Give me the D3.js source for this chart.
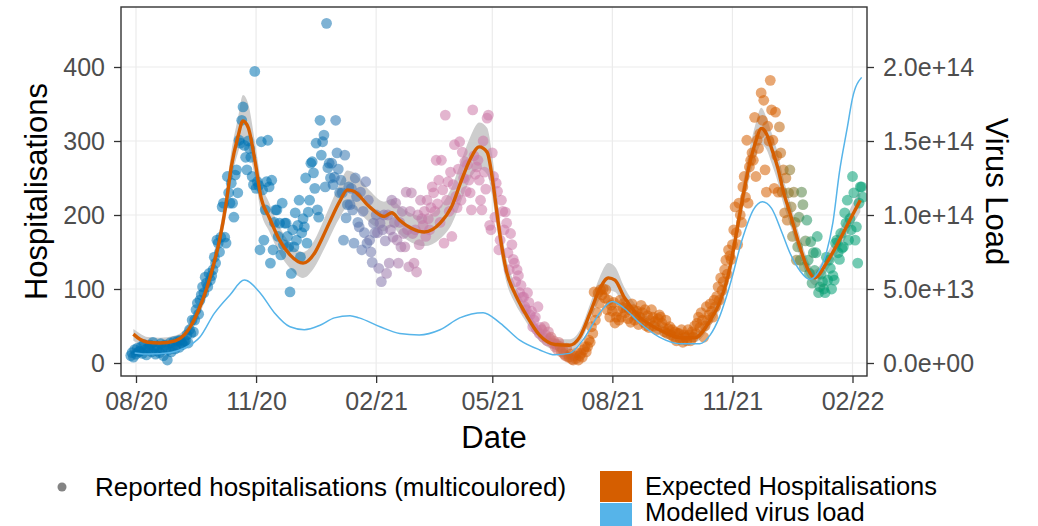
<!DOCTYPE html>
<html>
<head>
<meta charset="utf-8">
<script src="https://cdn.jsdelivr.net/npm/d3@7"></script>
<style>
body { margin: 0; background: #fff; }
text { font-family: "Liberation Sans", Arial, sans-serif; }
</style>
</head>
<body>
<div id="chart"></div>
<script>
var width = 1038;
var height = 526;
var panel = {left: 121, right: 867, top: 7, bottom: 376};

// reported hospitalisations, one value per day from firstDay
var firstDay = "2020-07-28";
var hospitalisations = [
  10, 14, 8, 18, 12, 20, 15,
  16, 22, 13, 25, 18, 11, 20,
  19, 24, 15, 28, 21, 12, 17,
  22, 14, 26, 18, 10, 24, 20,
  4, 18, 27, 15, 22, 29, 19,
  24, 30, 21, 31, 27, 25, 29,
  30, 38, 27, 45, 40, 58, 42,
  58, 72, 81, 66, 85, 92, 103,
  95, 116, 108, 103, 121, 112, 118,
  126, 143, 135, 166, 162, 150, 170,
  211, 216, 170, 162, 252, 230, 216,
  243, 216, 197, 254, 261, 230, 301,
  297, 328, 346, 294, 278, 261, 300,
  290, 278, 252, 241, 394, 236, 245,
  240, 153, 299, 234, 166, 207, 245,
  301, 238, 135, 247, 153, 190, 207,
  207, 171, 189, 146, 216, 160, 189,
  189, 171, 157, 96, 121, 180, 157,
  203, 166, 186, 220, 143, 176, 195,
  184, 250, 162, 204, 220, 270, 272,
  257, 236, 297, 207, 197, 328, 281,
  299, 308, 238, 459, 264, 270, 250,
  270, 241, 251, 328, 284, 262, 230,
  247, 230, 166, 281, 196, 214, 238,
  214, 236, 207, 162, 250, 225, 190,
  184, 231, 153, 205, 176, 245, 162,
  220, 166, 150, 136, 189, 176, 200,
  176, 128, 189, 110, 180, 200, 165,
  121, 200, 135, 180, 220, 170, 190,
  216, 166, 135, 190, 157, 205, 175,
  157, 231, 180, 130, 205, 230, 175,
  135, 180, 123, 200, 160, 220, 195,
  186, 205, 171, 220, 195, 180, 210,
  238, 230, 205, 274, 215, 247, 190,
  274, 234, 162, 335, 220, 245, 205,
  258, 171, 241, 295, 225, 210, 262,
  299, 220, 285, 250, 272, 232, 268,
  247, 230, 207, 342, 280, 255, 265,
  274, 247, 220, 207, 300, 258, 235,
  331, 335, 186, 180, 284, 252, 197,
  243, 232, 153, 166, 220, 205, 180,
  204, 189, 149, 126, 175, 160, 140,
  135, 110, 126, 118, 95, 105, 89,
  89, 76, 72, 95, 82, 65, 70,
  49, 58, 62, 45, 76, 40, 48,
  45, 35, 49, 38, 30, 42, 33,
  35, 27, 30, 22, 25, 18, 28,
  22, 15, 18, 12, 10, 20, 8,
  8, 12, 5, 4, 10, 6, 14,
  4, 10, 13, 8, 18, 22, 15,
  22, 31, 28, 49, 40, 96, 58,
  68, 95, 81, 99, 92, 100, 88,
  99, 72, 85, 62, 78, 70, 82,
  54, 62, 70, 58, 85, 62, 75,
  81, 68, 74, 60, 72, 55, 80,
  72, 58, 64, 70, 52, 62, 78,
  68, 55, 72, 50, 64, 48, 58,
  72, 62, 50, 56, 45, 60, 65,
  62, 54, 48, 42, 58, 40, 46,
  49, 38, 45, 35, 42, 30, 40,
  40, 32, 45, 28, 38, 35, 30,
  45, 38, 30, 42, 35, 50, 40,
  54, 62, 48, 68, 58, 35, 50,
  76, 58, 65, 80, 70, 62, 85,
  76, 90, 103, 85, 115, 98, 110,
  126, 139, 120, 153, 145, 140, 160,
  180, 211, 176, 160, 216, 200, 190,
  238, 252, 224, 301, 216, 265, 274,
  284, 274, 332, 252, 301, 290, 310,
  365, 328, 355, 261, 231, 320, 300,
  382, 342, 301, 236, 339, 280, 231,
  319, 284, 231, 261, 203, 250, 193,
  230, 261, 211, 171, 231, 190, 139,
  157, 197, 139, 231, 214, 130, 165,
  193, 139, 121, 164, 108, 149, 125,
  149, 171, 95, 103, 120, 110, 100,
  95, 143, 112, 139, 128, 100, 118,
  112, 162, 166, 149, 140, 175, 155,
  157, 203, 189, 220, 166, 195, 180,
  252, 230, 166, 184, 135, 216, 238,
  238, 224
];

// weekly variant shares (rest is wild type), used to colour the points
var alphaShare = [
  0,0,0,0,0,0,0,0,0,0, 0,0,0,0,0,0,0,0,0,0,
  .05,.1,.18,.25,.35,.45,.55,.65,.75,.82, .88,.93,.97,1,1,1,1,1,1,1,
  1,1,1,1,1,.9,.7,.4,.15,.05, 0,0,0,0,0,0,0,0,0,0,
  0,0,0,0,0,0,0,0,0,0, 0,0,0,0,0,0,0,0,0,0
];
var deltaShare = [
  0,0,0,0,0,0,0,0,0,0, 0,0,0,0,0,0,0,0,0,0,
  0,0,0,0,0,0,0,0,0,0, 0,0,0,0,0,0,0,0,0,0,
  0,0,0,0,0,.1,.3,.6,.85,.95, 1,1,1,1,1,1,1,1,1,1,
  1,1,1,1,1,1,1,1,1,1, 1,.9,.65,.4,.15,.05,0,0,0,0
];
var omicronShare = [
  0,0,0,0,0,0,0,0,0,0, 0,0,0,0,0,0,0,0,0,0,
  0,0,0,0,0,0,0,0,0,0, 0,0,0,0,0,0,0,0,0,0,
  0,0,0,0,0,0,0,0,0,0, 0,0,0,0,0,0,0,0,0,0,
  0,0,0,0,0,0,0,0,0,0, 0,.1,.35,.6,.85,.95,1,1,1,1
];

// expected hospitalisations with interval
var fitDates = ["2020-07-30","2020-08-04","2020-08-10","2020-08-19","2020-08-31","2020-09-07","2020-09-12","2020-09-19","2020-09-24","2020-09-29",
  "2020-10-04","2020-10-09","2020-10-13","2020-10-18","2020-10-22","2020-10-26","2020-10-31","2020-11-05","2020-11-11","2020-11-19",
  "2020-11-27","2020-12-07","2020-12-16","2020-12-22","2020-12-27","2021-01-04","2021-01-10","2021-01-15","2021-01-27","2021-02-07",
  "2021-02-13","2021-02-19","2021-02-28","2021-03-10","2021-03-22","2021-03-31","2021-04-07","2021-04-14","2021-04-21","2021-04-27",
  "2021-05-01","2021-05-04","2021-05-08","2021-05-12","2021-05-18","2021-05-26","2021-06-06","2021-06-18","2021-06-29","2021-07-07",
  "2021-07-15","2021-07-22","2021-07-29","2021-08-03","2021-08-10","2021-08-22","2021-09-06","2021-09-22","2021-10-03","2021-10-15",
  "2021-10-22","2021-10-29","2021-11-03","2021-11-08","2021-11-14","2021-11-19","2021-11-23","2021-11-27","2021-12-01","2021-12-06",
  "2021-12-10","2021-12-15","2021-12-23","2021-12-29","2022-01-03","2022-01-12","2022-01-22","2022-02-01","2022-02-07"];
var fitMid = [39,32,28,27,30,38,50,76,100,130, 166,215,265,305,327,318,275,222,197,166,
  146,135,149,170,189,218,234,232,211,198, 203,193,182,177,189,212,245,275,292,285,
  250,210,160,123,95,68,38,25,24,35, 68,99,115,112,89,62,45,34,34,58,
  81,120,165,215,268,300,317,310,290,262, 232,203,155,126,115,135,166,200,220];
var fitLow = [30,25,22,21,24,31,42,67,90,119, 153,200,247,283,302,292,252,202,178,148,
  128,115,130,150,168,196,210,208,190,178, 184,174,163,158,168,188,218,248,262,255,
  225,188,142,108,82,58,30,18,17,27, 57,85,98,96,76,53,38,28,28,50,
  71,108,151,199,250,280,295,289,270,243, 215,188,142,115,105,124,153,186,204];
var fitHigh = [46,40,35,34,37,45,58,85,110,141, 179,232,285,330,362,350,300,244,217,184,
  162,150,167,190,210,242,260,257,233,218, 222,212,202,198,212,238,272,305,325,318,
  280,236,180,140,108,79,47,32,32,44, 80,115,135,130,103,72,53,41,41,67,
  92,133,180,232,288,325,345,332,311,282, 250,219,169,138,126,147,179,215,236];

// modelled virus load, in units of 1e13
var loadDates = ["2020-07-31","2020-08-11","2020-08-27","2020-09-07","2020-09-19","2020-09-30","2020-10-12","2020-10-23","2020-11-04","2020-11-15",
  "2020-11-27","2020-12-08","2020-12-20","2020-12-31","2021-01-12","2021-01-19","2021-02-04","2021-02-19","2021-03-06","2021-03-22",
  "2021-04-06","2021-04-24","2021-05-07","2021-05-22","2021-06-06","2021-06-18","2021-06-29","2021-07-11","2021-07-22","2021-08-01",
  "2021-08-10","2021-08-22","2021-09-06","2021-09-22","2021-10-07","2021-10-15","2021-10-22","2021-10-30","2021-11-09","2021-11-17",
  "2021-11-24","2021-12-01","2021-12-09","2021-12-15","2021-12-23","2021-12-30","2022-01-05","2022-01-12","2022-01-17","2022-01-22",
  "2022-01-28","2022-02-01","2022-02-08"];
var virusLoadE13 = [0.68,0.6,0.7,1.0,1.75,3.35,4.6,5.6,4.75,3.4,
  2.45,2.25,2.55,3.05,3.2,3.05,2.45,2.0,1.9,2.25,
  3.05,3.4,2.7,1.55,0.9,0.55,0.65,1.75,3.35,4.15,
  3.7,2.7,1.75,1.3,1.3,1.9,3.1,5.25,8.5,10.35,
  10.9,10.45,8.8,7.45,6.2,5.65,6.05,7.45,9.5,12.9,
  15.9,17.9,19.3];

var xTicks = ["2020-08-01","2020-11-01","2021-02-01","2021-05-01","2021-08-01","2021-11-01","2022-02-01"];
var yTicks = [0, 100, 200, 300, 400];
var loadTicks = [0, 5e13, 1e14, 1.5e14, 2e14];
var loadTickLabels = ["0.0e+00", "5.0e+13", "1.0e+14", "1.5e+14", "2.0e+14"];
var variantColours = {wild: "#0072B2", alpha: "#CC79A7", delta: "#D55E00", omicron: "#009E73"};

var parseDate = d3.utcParse("%Y-%m-%d");

var x = d3.scaleUtc().domain([parseDate("2020-08-01"), parseDate("2022-02-01")]).range([136, 852.5]);
var y = d3.scaleLinear().domain([0, 400]).range([363, 67]);
var yLoad = d3.scaleLinear().domain([0, 2e14]).range([363, 67]);

var svg = d3.select("#chart").append("svg")
    .attr("width", width).attr("height", height);

svg.append("defs").append("clipPath").attr("id", "clip")
  .append("rect").attr("x", panel.left).attr("y", panel.top)
    .attr("width", panel.right - panel.left).attr("height", panel.bottom - panel.top);

// grid
var grid = svg.append("g");
grid.selectAll(".gx").data(xTicks).join("line")
    .attr("x1", d => x(parseDate(d))).attr("x2", d => x(parseDate(d)))
    .attr("y1", panel.top).attr("y2", panel.bottom)
    .attr("stroke", "#ebebeb").attr("stroke-width", 1.2);
grid.selectAll(".gy").data(yTicks).join("line")
    .attr("x1", panel.left).attr("x2", panel.right)
    .attr("y1", d => y(d)).attr("y2", d => y(d))
    .attr("stroke", "#ebebeb").attr("stroke-width", 1.2);

var plot = svg.append("g").attr("clip-path", "url(#clip)");

var fit = fitDates.map((d, i) => ({date: parseDate(d), mid: fitMid[i], low: fitLow[i], high: fitHigh[i]}));

plot.append("path").datum(fit)
    .attr("fill", "#cdcdcd")
    .attr("d", d3.area().curve(d3.curveMonotoneX)
        .x(d => x(d.date)).y0(d => y(d.low)).y1(d => y(d.high)));

// points coloured by variant mix
var base = [variantColours.wild, variantColours.alpha, variantColours.delta, variantColours.omicron].map(c => d3.rgb(c));
function mixColour(w) {
    var s = [1 - alphaShare[w] - deltaShare[w] - omicronShare[w], alphaShare[w], deltaShare[w], omicronShare[w]];
    var r = 0, g = 0, b = 0;
    s.forEach((v, i) => { r += v * base[i].r; g += v * base[i].g; b += v * base[i].b; });
    return d3.rgb(r, g, b).formatHex();
}

var start = parseDate(firstDay);
var points = hospitalisations.map((v, i) => ({
    date: d3.utcDay.offset(start, i),
    value: v,
    week: Math.min(Math.floor(i / 7), alphaShare.length - 1)
}));

plot.selectAll(".pt").data(points).join("circle")
    .attr("class", "pt")
    .attr("cx", d => x(d.date))
    .attr("cy", d => y(d.value))
    .attr("r", 5.4)
    .attr("fill", d => mixColour(d.week))
    .attr("fill-opacity", 0.55);

plot.append("path").datum(fit)
    .attr("fill", "none").attr("stroke", variantColours.delta).attr("stroke-width", 3.4)
    .attr("d", d3.line().curve(d3.curveMonotoneX).x(d => x(d.date)).y(d => y(d.mid)));

var load = loadDates.map((d, i) => ({date: parseDate(d), value: virusLoadE13[i] * 1e13}));
plot.append("path").datum(load)
    .attr("fill", "none").attr("stroke", "#56B4E9").attr("stroke-width", 1.5)
    .attr("d", d3.line().curve(d3.curveMonotoneX).x(d => x(d.date)).y(d => yLoad(d.value)));

// panel border
svg.append("rect")
    .attr("x", panel.left).attr("y", panel.top)
    .attr("width", panel.right - panel.left).attr("height", panel.bottom - panel.top)
    .attr("fill", "none").attr("stroke", "#333333").attr("stroke-width", 1.4);

// axes
function styleAxis(g) {
    g.select(".domain").remove();
    g.selectAll(".tick line").attr("stroke", "#333333").attr("stroke-width", 1.3);
    g.selectAll(".tick text").attr("fill", "#4d4d4d").style("font-size", "25px")
        .style("font-family", '"Liberation Sans", Arial, sans-serif');
}

svg.append("g").attr("transform", `translate(${panel.left},0)`)
    .call(d3.axisLeft(y).tickValues(yTicks).tickSize(7).tickPadding(9))
    .call(styleAxis);

svg.append("g").attr("transform", `translate(${panel.right},0)`)
    .call(d3.axisRight(yLoad).tickValues(loadTicks).tickSize(7).tickPadding(9)
        .tickFormat((d, i) => loadTickLabels[i]))
    .call(styleAxis);

svg.append("g").attr("transform", `translate(0,${panel.bottom})`)
    .call(d3.axisBottom(x).tickValues(xTicks.map(parseDate)).tickSize(7).tickPadding(9)
        .tickFormat(d3.utcFormat("%m/%y")))
    .call(styleAxis);

// titles
svg.append("text").attr("x", (panel.left + panel.right) / 2).attr("y", 448)
    .attr("text-anchor", "middle").style("font-size", "31px").text("Date");
svg.append("text").attr("transform", `translate(47,${(panel.top + panel.bottom) / 2}) rotate(-90)`)
    .attr("text-anchor", "middle").style("font-size", "31px").text("Hospitalisations");
svg.append("text").attr("transform", `translate(986,${(panel.top + panel.bottom) / 2}) rotate(90)`)
    .attr("text-anchor", "middle").style("font-size", "31px").text("Virus Load");

// legend
var legend = svg.append("g");
legend.append("circle").attr("cx", 62).attr("cy", 487).attr("r", 4.5)
    .attr("fill", "#6e6e6e").attr("fill-opacity", 0.85);
legend.append("text").attr("x", 95).attr("y", 496).style("font-size", "26px")
    .text("Reported hospitalisations (multicoulored)");

var keys = [
    {label: "Expected Hospitalisations", colour: variantColours.delta},
    {label: "Modelled virus load", colour: "#56B4E9"}
];
legend.selectAll(".key").data(keys).join("rect")
    .attr("x", 600).attr("y", (d, i) => 471 + i * 32)
    .attr("width", 32).attr("height", 31)
    .attr("fill", d => d.colour);
legend.selectAll(".keytext").data(keys).join("text")
    .attr("x", 645).attr("y", (d, i) => 495 + i * 26)
    .style("font-size", "25.5px")
    .text(d => d.label);
</script>
</body>
</html>
